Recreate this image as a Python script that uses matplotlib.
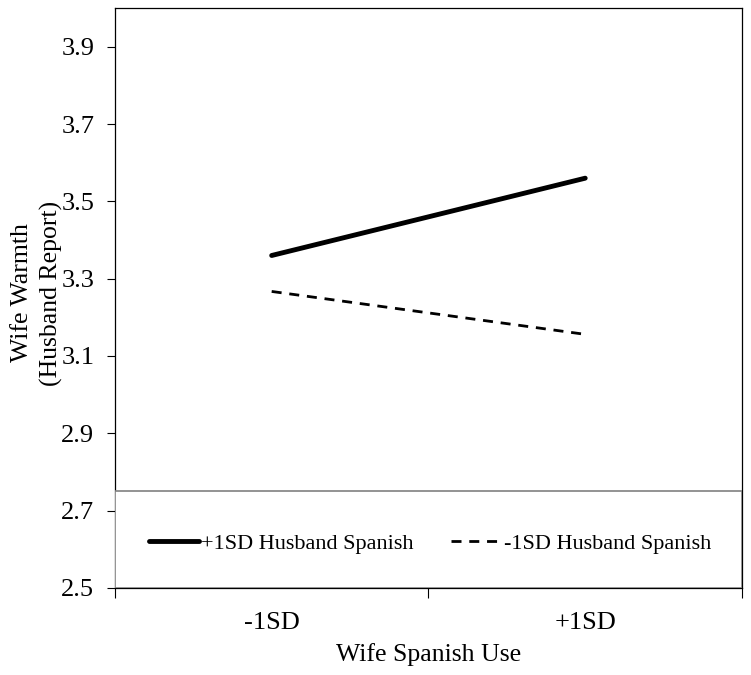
import numpy as np
import matplotlib
matplotlib.use('Agg')
import matplotlib.pyplot as plt
from matplotlib.patches import Rectangle

# 数据
categories = ['-1SD', '+1SD']
high_husband = [3.36, 3.56]    # +1SD Husband Spanish
low_husband = [3.267, 3.156]   # -1SD Husband Spanish
series_names = ['+1SD Husband Spanish', '-1SD Husband Spanish']
yticks = [2.5, 2.7, 2.9, 3.1, 3.3, 3.5, 3.7, 3.9]

plt.rcParams['font.family'] = ['Liberation Serif', 'DejaVu Serif']

fig = plt.figure(figsize=(7.51, 6.75), dpi=100)
ax = fig.add_axes([0.153, 0.129, 0.835, 0.859])

xpos = [0.5, 1.5]
ax.plot(xpos, high_husband, color='black', lw=3.5, solid_capstyle='round',
        label=series_names[0])
ax.plot(xpos, low_husband, color='black', lw=2.0, dashes=(3.6, 2.8),
        label=series_names[1])

ax.set_xlim(0, 2)
ax.set_ylim(2.5, 4.0)
ax.set_yticks(yticks)
ax.set_yticklabels(['%.1f' % v for v in yticks])
ax.set_xticks([0, 1, 2])
ax.set_xticklabels(['', '', ''])
ax.set_xticks(xpos, minor=True)
ax.set_xticklabels(categories, minor=True)
ax.tick_params(axis='x', which='major', length=7, width=0.8, direction='out')
ax.tick_params(axis='x', which='minor', length=0, pad=17.5, labelsize=19)
ax.tick_params(axis='y', length=5.8, width=0.8, direction='out', labelsize=19, pad=9)

for s in ax.spines.values():
    s.set_linewidth(0.9)

ax.set_xlabel('Wife Spanish Use', fontsize=18.5, labelpad=6)
fig.text(0.049, 0.566, 'Wife Warmth\n(Husband Report)', rotation=90,
         ha='center', va='center', fontsize=18.5, linespacing=1.4)

# 图例框
ax.add_patch(Rectangle((0, 0), 1, 0.25 / 1.5, transform=ax.transAxes,
                       facecolor='white', edgecolor='#808080', lw=1.2, zorder=3))
leg = ax.legend(loc='center', bbox_to_anchor=(0.502, 0.076),
                ncol=2, frameon=False, fontsize=16, handlelength=2.25,
                handletextpad=0.12, columnspacing=1.67)
leg.set_zorder(4)

fig.savefig('out.png', dpi=100)
